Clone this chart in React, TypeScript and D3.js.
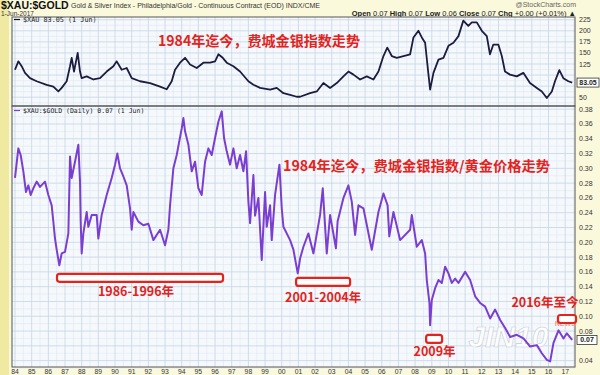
import React from "react";
import * as d3 from "d3";

// $XAU price (top panel)
const xauYears = [
  1984.0, 1984.2, 1984.4, 1984.6, 1984.9, 1985.3, 1985.9, 1986.3, 1986.6, 1986.8,
  1987.1, 1987.3, 1987.4, 1987.54, 1987.76, 1987.9, 1988.0, 1988.3, 1988.7, 1989.1,
  1989.5, 1989.9, 1990.1, 1990.4, 1990.7, 1991.0, 1991.5, 1992.1, 1992.7, 1993.1,
  1993.4, 1993.6, 1993.9, 1994.2, 1994.5, 1994.9, 1995.3, 1995.7, 1996.0, 1996.2,
  1996.46, 1996.7, 1997.1, 1997.5, 1998.0, 1998.3, 1998.7, 1999.3, 1999.7, 2000.1,
  2000.5, 2000.9, 2001.1, 2001.7, 2002.1, 2002.5, 2002.9, 2003.3, 2003.7, 2004.0,
  2004.3, 2004.7, 2005.1, 2005.5, 2005.8, 2006.1, 2006.33, 2006.6, 2006.9, 2007.3,
  2007.7, 2007.9, 2008.2, 2008.4, 2008.6, 2008.79, 2008.9, 2009.1, 2009.4, 2009.7,
  2010.0, 2010.3, 2010.6, 2010.89, 2011.19, 2011.4, 2011.7, 2012.0, 2012.3, 2012.49,
  2012.69, 2012.99, 2013.2, 2013.39, 2013.69, 2014.1, 2014.49, 2014.89, 2015.3, 2015.6,
  2015.9, 2016.2, 2016.39, 2016.65, 2016.89, 2017.19, 2017.42,
];
const xauValues = [
  112, 131, 120, 105, 93, 86, 78, 74, 63, 71,
  86, 120, 139, 108, 150, 108, 93, 97, 90, 93,
  108, 120, 131, 112, 116, 93, 86, 82, 74, 68,
  86, 112, 128, 139, 124, 116, 128, 128, 131, 147,
  139, 128, 120, 108, 86, 78, 71, 67, 71, 59,
  55, 51, 51, 59, 63, 82, 71, 82, 97, 108,
  101, 90, 97, 90, 108, 143, 162, 143, 139, 143,
  147, 185, 200, 185, 173, 105, 67, 105, 135, 139,
  166, 173, 188, 223, 211, 219, 219, 200, 188, 147,
  169, 169, 143, 108, 101, 97, 105, 82, 71, 63,
  48, 63, 86, 111, 93, 86, 83.05,
];

// $XAU:$GOLD ratio (bottom panel)
const ratioYears = [
  1984.0, 1984.2, 1984.34, 1984.5, 1984.66, 1984.8, 1984.94, 1985.1, 1985.3, 1985.5,
  1985.8, 1986.0, 1986.2, 1986.3, 1986.4, 1986.5, 1986.66, 1986.8, 1987.0, 1987.2,
  1987.3, 1987.4, 1987.6, 1987.8, 1987.9, 1987.94, 1988.0, 1988.1, 1988.3, 1988.4,
  1988.6, 1988.9, 1989.0, 1989.2, 1989.5, 1989.8, 1990.0, 1990.14, 1990.3, 1990.5,
  1990.7, 1990.9, 1991.0, 1991.1, 1991.4, 1991.7, 1992.0, 1992.3, 1992.7, 1993.0,
  1993.2, 1993.3, 1993.5, 1993.7, 1994.0, 1994.1, 1994.2, 1994.4, 1994.6, 1994.8,
  1995.0, 1995.2, 1995.4, 1995.6, 1995.8, 1996.0, 1996.2, 1996.4, 1996.54, 1996.7,
  1996.9, 1997.1, 1997.3, 1997.5, 1997.7, 1997.86, 1998.0, 1998.1, 1998.3, 1998.4,
  1998.6, 1998.8, 1999.0, 1999.1, 1999.3, 1999.4, 1999.6, 1999.86, 2000.0, 2000.1,
  2000.5, 2000.7, 2000.96, 2001.06, 2001.1, 2001.3, 2001.6, 2001.9, 2002.3, 2002.46,
  2002.7, 2002.9, 2003.25, 2003.35, 2003.7, 2004.0, 2004.2, 2004.4, 2004.6, 2004.9,
  2005.4, 2005.8, 2006.1, 2006.35, 2006.45, 2006.7, 2007.1, 2007.7, 2007.8, 2008.1,
  2008.4, 2008.6, 2008.7, 2008.86, 2008.9, 2009.0, 2009.2, 2009.4, 2009.6, 2009.8,
  2010.0, 2010.2, 2010.4, 2010.6, 2011.0, 2011.3, 2011.6, 2011.9, 2012.2, 2012.5,
  2012.8, 2013.1, 2013.4, 2013.7, 2014.1, 2014.5, 2014.9, 2015.3, 2015.6, 2015.9,
  2016.1, 2016.3, 2016.6, 2016.9, 2017.1, 2017.42,
];
const ratioValues = [
  0.287, 0.327, 0.318, 0.296, 0.268, 0.277, 0.264, 0.273, 0.282, 0.275,
  0.282, 0.264, 0.25, 0.228, 0.205, 0.19, 0.169, 0.185, 0.187, 0.212,
  0.316, 0.287, 0.309, 0.332, 0.282, 0.228, 0.185, 0.212, 0.241, 0.221,
  0.237, 0.237, 0.205, 0.237, 0.264, 0.287, 0.305, 0.32, 0.3, 0.289,
  0.277, 0.246, 0.217, 0.241, 0.228, 0.223, 0.225, 0.203, 0.217, 0.196,
  0.217, 0.25, 0.3, 0.318, 0.354, 0.368, 0.35, 0.332, 0.296, 0.309,
  0.273, 0.264, 0.309, 0.327, 0.318, 0.341, 0.363, 0.377, 0.341, 0.323,
  0.305, 0.327, 0.3, 0.318, 0.296, 0.323, 0.255, 0.226, 0.291, 0.236,
  0.26, 0.176, 0.268, 0.221, 0.25, 0.203, 0.264, 0.305, 0.246, 0.221,
  0.203, 0.19, 0.158, 0.172, 0.178, 0.194, 0.212, 0.185, 0.237, 0.273,
  0.185, 0.237, 0.192, 0.228, 0.26, 0.277, 0.255, 0.21, 0.25, 0.246,
  0.19, 0.241, 0.266, 0.25, 0.208, 0.241, 0.203, 0.217, 0.237, 0.194,
  0.203, 0.185, 0.149, 0.118, 0.088, 0.122, 0.138, 0.149, 0.145, 0.167,
  0.158, 0.145, 0.151, 0.145, 0.16, 0.149, 0.127, 0.118, 0.113, 0.097,
  0.109, 0.095, 0.084, 0.072, 0.075, 0.07, 0.059, 0.061, 0.05, 0.041,
  0.039, 0.064, 0.081, 0.07, 0.077, 0.068,
];

const yearTicks = d3.range(1984, 2018);
const xauTicks = [50, 75, 100, 125, 150, 175, 200, 225];
const ratioTicks = d3.range(0.04, 0.381, 0.02);

// red boxes + labels drawn on the lower panel
const annotations = [
  { label: "1986-1996年", from: 1986.52, to: 1996.48, value: 0.152, labelYear: 1991.26, labelValue: 0.1274 },
  { label: "2001-2004年", from: 2000.86, to: 2004.1, value: 0.1464, labelYear: 2002.48, labelValue: 0.1193 },
  { label: "2009年", from: 2008.66, to: 2009.62, value: 0.0693, labelYear: 2009.17, labelValue: 0.0461 },
  { label: "2016年至今", from: 2016.57, to: 2017.65, value: 0.0963, labelYear: 2015.79, labelValue: 0.1126 },
];

const left = 12;
const right = 575;
const topY = 17;
const midY = 106;
const bottomY = 367;
const RED = "#e3231c";
const CJK = "'Noto Sans CJK SC', 'Noto Sans', sans-serif";
const SANS = "'Liberation Sans', Arial, sans-serif";

export default function App() {
  const x = d3.scaleLinear().domain([1983.82, 2017.59]).range([left, right]);
  const yTop = d3.scaleLinear().domain([30.1, 231.2]).range([midY, topY]);
  const yBot = d3.scaleLinear().domain([0.0314, 0.3843]).range([bottomY, midY]);

  const xauLine = d3
    .line<number>()
    .x((d, i) => x(xauYears[i]))
    .y((d) => yTop(d));
  const ratioLine = d3
    .line<number>()
    .x((d, i) => x(ratioYears[i]))
    .y((d) => yBot(d));

  const halfYears = yearTicks.map((y) => y + 0.5);

  const grid = (y: d3.ScaleLinear<number, number>, ticks: number[], step: number, y0: number, y1: number) => (
    <g>
      {ticks.map((t) => (
        <line key={"m" + t} x1={left} x2={right} y1={y(t - step / 2)} y2={y(t - step / 2)} stroke="#e3ebf4" strokeWidth={0.8} />
      ))}
      {halfYears.map((t) => (
        <line key={"h" + t} x1={x(t)} x2={x(t)} y1={y0} y2={y1} stroke="#e3ebf4" strokeWidth={0.8} />
      ))}
      {ticks.map((t) => (
        <line key={"t" + t} x1={left} x2={right} y1={y(t)} y2={y(t)} stroke="#c9d8e8" strokeWidth={0.9} />
      ))}
      {yearTicks.map((t) => (
        <line key={"y" + t} x1={x(t)} x2={x(t)} y1={y0} y2={y1} stroke="#c9d8e8" strokeWidth={0.9} />
      ))}
    </g>
  );

  const lastXau = xauValues[xauValues.length - 1];
  const lastRatio = ratioValues[ratioValues.length - 1];
  // tick labels hidden behind the last-value boxes
  const topLabels = xauTicks.filter((t) => Math.abs(yTop(t) - yTop(lastXau)) > 8);
  const botLabels = ratioTicks.filter((t) => Math.abs(yBot(t) - yBot(lastRatio)) > 8);

  return (
    <svg
      width={600}
      height={375}
      style={{ position: "absolute", left: 0, top: 0, display: "block" }}
      fontFamily={SANS}
    >
      <rect width={600} height={375} fill="#fbf9dc" />
      <rect x={0} y={0} width={9} height={375} fill="#efe9a2" />

      {/* header */}
      <text x={1} y={9} fontSize={10.5} fontWeight="bold" fill="#111">$XAU:$GOLD</text>
      <text x={71} y={8} fontSize={7} fill="#333">
        Gold &amp; Silver Index - Philadelphia/Gold - Continuous Contract (EOD) INDX/CME
      </text>
      <text x={1} y={16} fontSize={6.5} fill="#333">1-Jun-2017</text>
      <text x={576} y={7} fontSize={7} fill="#666" textAnchor="end">@StockCharts.com</text>
      <text x={576} y={15.5} fontSize={7.5} fill="#222" textAnchor="end">
        <tspan fontWeight="bold">Open</tspan> 0.07 <tspan fontWeight="bold">High</tspan> 0.07{" "}
        <tspan fontWeight="bold">Low</tspan> 0.06 <tspan fontWeight="bold">Close</tspan> 0.07{" "}
        <tspan fontWeight="bold">Chg</tspan> +0.00 (+0.01%) ▲
      </text>

      {/* panels */}
      <rect x={left} y={topY} width={right - left} height={midY - topY} fill="#f6f9fc" />
      <rect x={left} y={midY} width={right - left} height={bottomY - midY} fill="#f6f9fc" />
      {grid(yTop, xauTicks, 25, topY, midY)}
      {grid(yBot, ratioTicks, 0.02, midY, bottomY)}

      {/* watermark */}
      <text x={x(2013.6)} y={yBot(0.058)} fontSize={30} fontWeight="bold" fontStyle="italic" fill="#ffffff" fillOpacity={0.85} stroke="#c8ccd4" strokeWidth={0.6} textAnchor="middle">
        JIN10
      </text>

      <path d={xauLine(xauValues) || ""} fill="none" stroke="#1c1c40" strokeWidth={1.8} strokeLinejoin="round" />
      <path d={ratioLine(ratioValues) || ""} fill="none" stroke="#7a3ed2" strokeWidth={2} strokeLinejoin="round" />

      <rect x={left} y={topY} width={right - left} height={midY - topY} fill="none" stroke="#555" strokeWidth={1} />
      <rect x={left} y={midY} width={right - left} height={bottomY - midY} fill="none" stroke="#555" strokeWidth={1} />

      {/* legends */}
      <line x1={14} x2={20} y1={19.5} y2={19.5} stroke="#111" strokeWidth={1.2} />
      <text x={23} y={22} fontSize={6.8} fill="#222" fontFamily="'DejaVu Sans Mono', monospace">$XAU 83.05 (1 Jun)</text>
      <line x1={14} x2={20} y1={110.5} y2={110.5} stroke="#7a3ed2" strokeWidth={1.2} />
      <text x={23} y={113} fontSize={6.5} fill="#222" fontFamily="'DejaVu Sans Mono', monospace">
        $XAU:$GOLD (Daily) 0.07 (1 Jun)
      </text>

      {/* right axes */}
      {topLabels.map((t) => (
        <text key={"a" + t} x={579} y={yTop(t) + 2.5} fontSize={7} fill="#333">{t}</text>
      ))}
      {botLabels.map((t) => (
        <text key={"b" + t} x={579} y={yBot(t) + 2.5} fontSize={7} fill="#333">{t.toFixed(2)}</text>
      ))}
      <rect x={577} y={yTop(lastXau) - 4.5} width={22} height={9} fill="#fff" stroke="#333" strokeWidth={0.8} />
      <text x={588} y={yTop(lastXau) + 2.5} fontSize={7} fontWeight="bold" fill="#222" textAnchor="middle">
        {lastXau.toFixed(2)}
      </text>
      <rect x={577} y={yBot(lastRatio) - 4.5} width={20} height={9} fill="#fff" stroke="#333" strokeWidth={0.8} />
      <text x={587} y={yBot(lastRatio) + 2.5} fontSize={7} fontWeight="bold" fill="#222" textAnchor="middle">
        {lastRatio.toFixed(2)}
      </text>

      {/* x axis */}
      {yearTicks.map((t) => (
        <text key={"x" + t} x={x(t)} y={373.5} fontSize={6.8} fill="#333" textAnchor="middle">
          {String(t).slice(2)}
        </text>
      ))}

      {/* annotations */}
      <text x={158} y={45.5} fontSize={14} fontWeight="bold" fill={RED} fontFamily={CJK} textLength={202} lengthAdjust="spacingAndGlyphs">
        1984年迄今，费城金银指数走势
      </text>
      <text x={283} y={171} fontSize={14} fontWeight="bold" fill={RED} fontFamily={CJK} textLength={267} lengthAdjust="spacingAndGlyphs">
        1984年迄今，费城金银指数/黄金价格走势
      </text>
      <text x={x(2017.0)} y={yBot(0.087)} fontSize={7} fontWeight="bold" fill="#f28a7a" fillOpacity={0.85} textAnchor="middle">
        NEWS
      </text>
      {annotations.map((a) => (
        <g key={a.label}>
          <rect
            x={x(a.from)}
            y={yBot(a.value) - 4}
            width={x(a.to) - x(a.from)}
            height={8}
            rx={2.5}
            fill="#ffffff"
            stroke={RED}
            strokeWidth={2.2}
          />
          <text x={x(a.labelYear)} y={yBot(a.labelValue)} fontSize={12.5} fontWeight="bold" fill={RED} fontFamily={CJK} textAnchor="middle">
            {a.label}
          </text>
        </g>
      ))}
    </svg>
  );
}
